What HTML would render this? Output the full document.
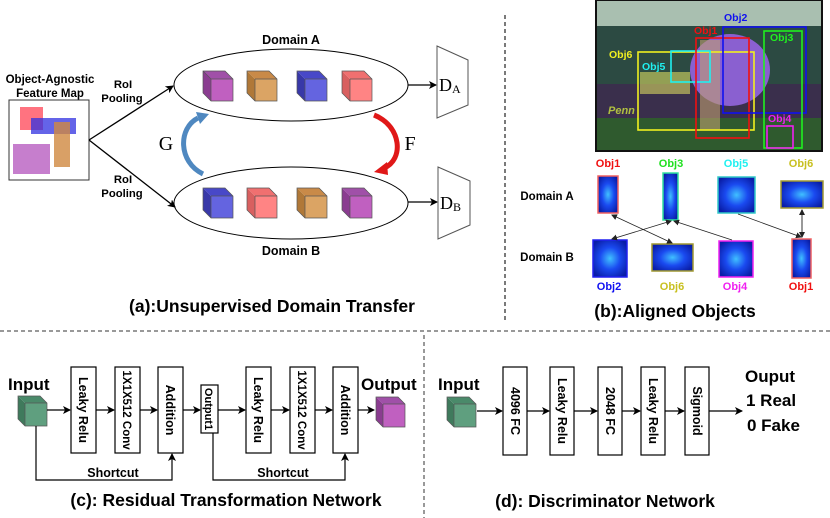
<!DOCTYPE html>
<html><head><meta charset="utf-8"><style>
html,body{margin:0;padding:0;background:#fff;}
svg{display:block;font-family:"Liberation Sans",Arial,sans-serif;}
.b{font-weight:bold;}
</style></head><body>
<svg width="830" height="518" viewBox="0 0 830 518" xmlns="http://www.w3.org/2000/svg">
<defs>
<marker id="ar" markerWidth="8" markerHeight="8" refX="7" refY="4" orient="auto" markerUnits="userSpaceOnUse"><path d="M0,0 L8,4 L0,8 L2,4 z" fill="#000"/></marker>
<marker id="ar2" markerWidth="6" markerHeight="6" refX="5" refY="3" orient="auto-start-reverse" markerUnits="userSpaceOnUse"><path d="M0,0 L6,3 L0,6 z" fill="#222"/></marker>
<radialGradient id="hm" cx="50%" cy="50%" r="60%"><stop offset="0" stop-color="#40c0ff"/><stop offset="0.5" stop-color="#1a4af0"/><stop offset="1" stop-color="#0a1ea8"/></radialGradient>
</defs>

<!-- (a) -->
<text x="291" y="44" class="b" font-size="12.5" text-anchor="middle">Domain A</text>
<ellipse cx="291" cy="85" rx="117" ry="36" fill="none" stroke="#000" stroke-width="1"/>
<ellipse cx="291" cy="203" rx="117" ry="36" fill="none" stroke="#000" stroke-width="1"/>
<text x="291" y="255" class="b" font-size="12.5" text-anchor="middle">Domain B</text>

<g id="cubes">
<g transform="translate(203,71)"><polygon points="0,0 22,0 30,8 8,8" fill="#a050a8"/><polygon points="0,0 8,8 8,30 0,22" fill="#8a3c90"/><rect x="8" y="8" width="22" height="22" fill="#c060c0"/><path d="M0,0 L22,0 L30,8 L30,30 L8,30 L0,22 Z M8,8 L30,8 M8,8 L8,30 M0,0 L8,8" fill="none" stroke="#555" stroke-width="0.7"/></g>
<g transform="translate(247,71)"><polygon points="0,0 22,0 30,8 8,8" fill="#c98a48"/><polygon points="0,0 8,8 8,30 0,22" fill="#b07838"/><rect x="8" y="8" width="22" height="22" fill="#dba464"/><path d="M0,0 L22,0 L30,8 L30,30 L8,30 L0,22 Z M8,8 L30,8 M8,8 L8,30" fill="none" stroke="#555" stroke-width="0.7"/></g>
<g transform="translate(297,71)"><polygon points="0,0 22,0 30,8 8,8" fill="#4848c8"/><polygon points="0,0 8,8 8,30 0,22" fill="#3838a8"/><rect x="8" y="8" width="22" height="22" fill="#6464e0"/><path d="M0,0 L22,0 L30,8 L30,30 L8,30 L0,22 Z M8,8 L30,8 M8,8 L8,30" fill="none" stroke="#555" stroke-width="0.7"/></g>
<g transform="translate(342,71)"><polygon points="0,0 22,0 30,8 8,8" fill="#f07070"/><polygon points="0,0 8,8 8,30 0,22" fill="#d86060"/><rect x="8" y="8" width="22" height="22" fill="#ff8484"/><path d="M0,0 L22,0 L30,8 L30,30 L8,30 L0,22 Z M8,8 L30,8 M8,8 L8,30" fill="none" stroke="#555" stroke-width="0.7"/></g>
<g transform="translate(203,188)"><polygon points="0,0 22,0 30,8 8,8" fill="#4848c8"/><polygon points="0,0 8,8 8,30 0,22" fill="#3838a8"/><rect x="8" y="8" width="22" height="22" fill="#6464e0"/><path d="M0,0 L22,0 L30,8 L30,30 L8,30 L0,22 Z M8,8 L30,8 M8,8 L8,30" fill="none" stroke="#555" stroke-width="0.7"/></g>
<g transform="translate(247,188)"><polygon points="0,0 22,0 30,8 8,8" fill="#f07070"/><polygon points="0,0 8,8 8,30 0,22" fill="#d86060"/><rect x="8" y="8" width="22" height="22" fill="#ff8484"/><path d="M0,0 L22,0 L30,8 L30,30 L8,30 L0,22 Z M8,8 L30,8 M8,8 L8,30" fill="none" stroke="#555" stroke-width="0.7"/></g>
<g transform="translate(297,188)"><polygon points="0,0 22,0 30,8 8,8" fill="#c98a48"/><polygon points="0,0 8,8 8,30 0,22" fill="#b07838"/><rect x="8" y="8" width="22" height="22" fill="#dba464"/><path d="M0,0 L22,0 L30,8 L30,30 L8,30 L0,22 Z M8,8 L30,8 M8,8 L8,30" fill="none" stroke="#555" stroke-width="0.7"/></g>
<g transform="translate(342,188)"><polygon points="0,0 22,0 30,8 8,8" fill="#a050a8"/><polygon points="0,0 8,8 8,30 0,22" fill="#8a3c90"/><rect x="8" y="8" width="22" height="22" fill="#c060c0"/><path d="M0,0 L22,0 L30,8 L30,30 L8,30 L0,22 Z M8,8 L30,8 M8,8 L8,30" fill="none" stroke="#555" stroke-width="0.7"/></g>
</g>

<text x="50" y="83" class="b" font-size="11.5" text-anchor="middle">Object-Agnostic</text>
<text x="50" y="97" class="b" font-size="11.5" text-anchor="middle">Feature Map</text>
<rect x="9" y="100" width="80" height="80" fill="#fff" stroke="#333" stroke-width="1"/>
<rect x="20" y="107" width="23" height="23" fill="#ff5a6a" opacity="0.85"/>
<rect x="31" y="118" width="45" height="16" fill="#3030e0" opacity="0.75"/>
<rect x="54" y="122" width="16" height="45" fill="#d08840" opacity="0.8"/>
<rect x="13" y="144" width="37" height="30" fill="#c070c8" opacity="0.9"/>

<line x1="89" y1="140" x2="173" y2="86" stroke="#000" stroke-width="1.3" marker-end="url(#ar)"/>
<line x1="89" y1="140" x2="175" y2="207" stroke="#000" stroke-width="1.3" marker-end="url(#ar)"/>
<text x="123" y="88" class="b" font-size="11.3" text-anchor="middle">RoI</text>
<text x="122" y="102" class="b" font-size="11.3" text-anchor="middle">Pooling</text>
<text x="123" y="183" class="b" font-size="11.3" text-anchor="middle">RoI</text>
<text x="122" y="197" class="b" font-size="11.3" text-anchor="middle">Pooling</text>

<path d="M203,174 C178,162 178,128 198,118" fill="none" stroke="#4f88c0" stroke-width="5"/>
<polygon points="196,112 209,114 200,124" fill="#4f88c0"/>
<text x="166" y="150" font-family="Liberation Serif,serif" font-size="20" text-anchor="middle">G</text>
<path d="M374,115 C402,126 404,160 384,168" fill="none" stroke="#e01818" stroke-width="5"/>
<polygon points="374,172 387,162 388,175" fill="#e01818"/>
<text x="410" y="150" font-family="Liberation Serif,serif" font-size="20" text-anchor="middle">F</text>

<line x1="408" y1="85" x2="436" y2="85" stroke="#000" stroke-width="1.3" marker-end="url(#ar)"/>
<line x1="408" y1="202" x2="437" y2="202" stroke="#000" stroke-width="1.3" marker-end="url(#ar)"/>
<polygon points="437,46 468,60 468,105 437,118" fill="#fff" stroke="#555" stroke-width="1"/>
<polygon points="438,167 470,181 470,225 438,239" fill="#fff" stroke="#555" stroke-width="1"/>
<text x="439" y="91" font-family="Liberation Serif,serif" font-size="18">D<tspan font-size="12" dy="2">A</tspan></text>
<text x="440" y="209" font-family="Liberation Serif,serif" font-size="18">D<tspan font-size="12" dy="2">B</tspan></text>

<text x="272" y="312" class="b" font-size="17.5" text-anchor="middle">(a):Unsupervised Domain Transfer</text>

<line x1="505" y1="15" x2="505" y2="320" stroke="#333" stroke-width="1.3" stroke-dasharray="4,3"/>
<line x1="0" y1="331" x2="830" y2="331" stroke="#333" stroke-width="1" stroke-dasharray="4,3"/>
<line x1="424" y1="335" x2="424" y2="518" stroke="#333" stroke-width="1" stroke-dasharray="4,3"/>

<!-- (b) photo -->
<rect x="595" y="0" width="228" height="152" fill="#111"/>
<rect x="597" y="1" width="224" height="25" fill="#a9bfb0"/>
<rect x="597" y="26" width="224" height="58" fill="#2c4a42"/>
<rect x="597" y="84" width="224" height="46" fill="#3a2f4c"/>
<rect x="597" y="118" width="224" height="32" fill="#2f5a2e"/>
<rect x="640" y="72" width="50" height="22" fill="#d8d860" opacity="0.6"/>
<ellipse cx="730" cy="70" rx="40" ry="36" fill="#8a60d0"/>
<rect x="700" y="40" width="20" height="90" fill="#c0a070" opacity="0.6"/>
<text x="608" y="114" font-size="11" font-style="italic" font-weight="bold" fill="#b0c040">Penn</text>
<g fill="none" stroke-width="1.6">
<rect x="638" y="52" width="116" height="78" stroke="#f0f020"/>
<rect x="671" y="51" width="39" height="31" stroke="#20f0f0"/>
<rect x="696" y="38" width="53" height="100" stroke="#f01010"/>
<rect x="723" y="27" width="83" height="86" stroke="#1010f0"/>
<rect x="764" y="31" width="38" height="117" stroke="#20f020"/>
<rect x="767" y="126" width="26" height="22" stroke="#f020f0"/>
</g>
<g class="b" font-size="10.5">
<text x="609" y="58" fill="#f0f020">Obj6</text>
<text x="642" y="70" fill="#20f0f0">Obj5</text>
<text x="694" y="34" fill="#f01010">Obj1</text>
<text x="724" y="21" fill="#1010f0">Obj2</text>
<text x="770" y="41" fill="#20f020">Obj3</text>
<text x="768" y="122" fill="#f020f0">Obj4</text>
</g>

<g class="b" font-size="11" text-anchor="middle">
<text x="608" y="167" fill="#f01010">Obj1</text>
<text x="671" y="167" fill="#20e020">Obj3</text>
<text x="736" y="167" fill="#20f0f0">Obj5</text>
<text x="801" y="167" fill="#c8c020">Obj6</text>
<text x="609" y="290" fill="#1010f0">Obj2</text>
<text x="672" y="290" fill="#c8c020">Obj6</text>
<text x="735" y="290" fill="#f020f0">Obj4</text>
<text x="801" y="290" fill="#f01010">Obj1</text>
</g>
<text x="547" y="200" class="b" font-size="11.5" text-anchor="middle">Domain A</text>
<text x="547" y="261" class="b" font-size="11.5" text-anchor="middle">Domain B</text>
<g stroke-width="1.5" fill="url(#hm)">
<rect x="598" y="176" width="20" height="37" stroke="#f06060"/>
<rect x="663" y="173" width="15" height="47" stroke="#30e0a0"/>
<rect x="718" y="177" width="37" height="36" stroke="#30c8c8"/>
<rect x="781" y="181" width="42" height="27" stroke="#a09830"/>
<rect x="593" y="240" width="34" height="37" stroke="#2020f0"/>
<rect x="652" y="244" width="41" height="27" stroke="#a09830"/>
<rect x="719" y="241" width="34" height="36" stroke="#f020f0"/>
<rect x="792" y="239" width="19" height="39" stroke="#f06060"/>
</g>
<g stroke="#222" stroke-width="0.8" fill="none">
<line x1="612" y1="215" x2="672" y2="243" marker-start="url(#ar2)" marker-end="url(#ar2)"/>
<line x1="671" y1="221" x2="612" y2="239" marker-start="url(#ar2)" marker-end="url(#ar2)"/>
<line x1="732" y1="240" x2="674" y2="221" marker-end="url(#ar2)"/>
<line x1="738" y1="214" x2="801" y2="237" marker-end="url(#ar2)"/>
</g>
<line x1="802" y1="210" x2="802" y2="237" stroke="#777" stroke-width="1.5" marker-start="url(#ar2)" marker-end="url(#ar2)"/>
<text x="675" y="317" class="b" font-size="17.5" text-anchor="middle">(b):Aligned Objects</text>

<!-- (c) -->
<text x="8" y="390" class="b" font-size="17">Input</text>
<g transform="translate(18,396)"><polygon points="0,0 22,0 29,7 7,7" fill="#4a8a6a"/><polygon points="0,0 7,7 7,30 0,23" fill="#3f7a5c"/><rect x="7" y="7" width="22" height="23" fill="#5f9f7f"/><path d="M0,0 L22,0 L29,7 L29,30 L7,30 L0,23 Z M7,7 L29,7 M7,7 L7,30" fill="none" stroke="#555" stroke-width="0.7"/></g>
<g fill="#fff" stroke="#000" stroke-width="1.2">
<rect x="71" y="367" width="25" height="86"/>
<rect x="115" y="367" width="25" height="86"/>
<rect x="158" y="367" width="25" height="86"/>
<rect x="201" y="385" width="17" height="48"/>
<rect x="246" y="367" width="25" height="86"/>
<rect x="290" y="367" width="25" height="86"/>
<rect x="333" y="367" width="25" height="86"/>
</g>
<g class="b" font-size="12.5" text-anchor="middle">
<text transform="translate(79,410) rotate(90)">Leaky Relu</text>
<text transform="translate(123,410) rotate(90)" font-size="11.5">1X1X512 Conv</text>
<text transform="translate(166,410) rotate(90)">Addition</text>
<text transform="translate(205,409) rotate(90)" font-size="11">Output1</text>
<text transform="translate(254,410) rotate(90)">Leaky Relu</text>
<text transform="translate(298,410) rotate(90)" font-size="11.5">1X1X512 Conv</text>
<text transform="translate(341,410) rotate(90)">Addition</text>
</g>
<g stroke="#000" stroke-width="1.2" marker-end="url(#ar)">
<line x1="47" y1="410" x2="70" y2="410"/>
<line x1="96" y1="410" x2="114" y2="410"/>
<line x1="140" y1="410" x2="157" y2="410"/>
<line x1="183" y1="410" x2="200" y2="410"/>
<line x1="218" y1="410" x2="245" y2="410"/>
<line x1="271" y1="410" x2="289" y2="410"/>
<line x1="315" y1="410" x2="332" y2="410"/>
<line x1="358" y1="410" x2="374" y2="410"/>
</g>
<path d="M36,426 L36,480 L172,480 L172,454" fill="none" stroke="#000" stroke-width="1.2" marker-end="url(#ar)"/>
<path d="M213,433 L213,480 L345,480 L345,454" fill="none" stroke="#000" stroke-width="1.2" marker-end="url(#ar)"/>
<text x="113" y="477" class="b" font-size="12.5" text-anchor="middle">Shortcut</text>
<text x="283" y="477" class="b" font-size="12.5" text-anchor="middle">Shortcut</text>
<text x="361" y="390" class="b" font-size="17">Output</text>
<g transform="translate(376,397)"><polygon points="0,0 22,0 29,7 7,7" fill="#a050a8"/><polygon points="0,0 7,7 7,30 0,23" fill="#8a3c90"/><rect x="7" y="7" width="22" height="23" fill="#c060c0"/><path d="M0,0 L22,0 L29,7 L29,30 L7,30 L0,23 Z M7,7 L29,7 M7,7 L7,30" fill="none" stroke="#555" stroke-width="0.7"/></g>
<text x="226" y="506" class="b" font-size="17.5" text-anchor="middle">(c): Residual Transformation Network</text>

<!-- (d) -->
<text x="438" y="390" class="b" font-size="17">Input</text>
<g transform="translate(447,397)"><polygon points="0,0 22,0 29,7 7,7" fill="#4a8a6a"/><polygon points="0,0 7,7 7,30 0,23" fill="#3f7a5c"/><rect x="7" y="7" width="22" height="23" fill="#5f9f7f"/><path d="M0,0 L22,0 L29,7 L29,30 L7,30 L0,23 Z M7,7 L29,7 M7,7 L7,30" fill="none" stroke="#555" stroke-width="0.7"/></g>
<g fill="#fff" stroke="#000" stroke-width="1.2">
<rect x="503" y="367" width="24" height="88"/>
<rect x="550" y="367" width="24" height="88"/>
<rect x="598" y="367" width="24" height="88"/>
<rect x="641" y="367" width="24" height="88"/>
<rect x="685" y="367" width="24" height="88"/>
</g>
<g class="b" font-size="12.5" text-anchor="middle">
<text transform="translate(511,411) rotate(90)">4096 FC</text>
<text transform="translate(558,411) rotate(90)">Leaky Relu</text>
<text transform="translate(606,411) rotate(90)">2048 FC</text>
<text transform="translate(649,411) rotate(90)">Leaky Relu</text>
<text transform="translate(693,411) rotate(90)">Sigmoid</text>
</g>
<g stroke="#000" stroke-width="1.2" marker-end="url(#ar)">
<line x1="477" y1="411" x2="502" y2="411"/>
<line x1="527" y1="411" x2="549" y2="411"/>
<line x1="574" y1="411" x2="597" y2="411"/>
<line x1="622" y1="411" x2="640" y2="411"/>
<line x1="665" y1="411" x2="684" y2="411"/>
<line x1="709" y1="411" x2="742" y2="411"/>
</g>
<text x="745" y="382" class="b" font-size="17">Ouput</text>
<text x="746" y="406" class="b" font-size="17">1 Real</text>
<text x="747" y="431" class="b" font-size="17">0 Fake</text>
<text x="605" y="507" class="b" font-size="17.5" text-anchor="middle">(d): Discriminator Network</text>
</svg>
</body></html>
